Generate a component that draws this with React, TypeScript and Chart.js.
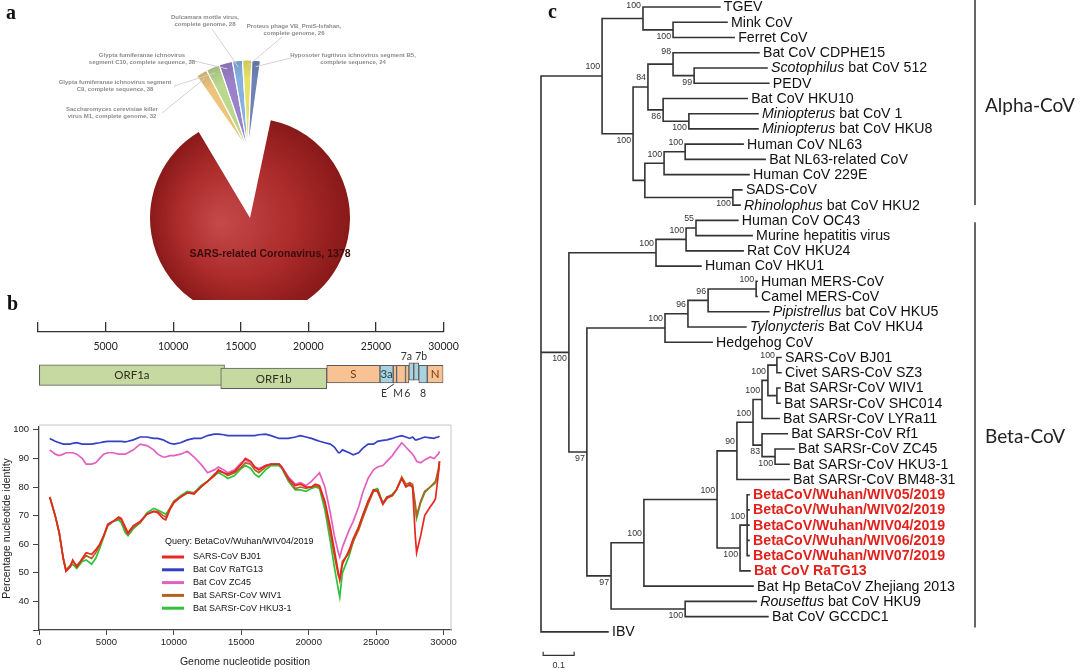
import React, { useEffect, useRef } from 'react';
import { Chart, registerables } from 'chart.js';

Chart.register(...registerables);

const SANS = '"Liberation Sans", Arial, sans-serif';
const CAL = 'Lato, "Open Sans", sans-serif';

// ---------------- Panel a : BLAST hits pie ----------------
const pieLine1 = ['SARS-related Coronavirus', 'Saccharomyces cerevisiae killer', 'Glypta fumiferanae ichnovirus segment', 'Glypta fumiferanae ichnovirus', 'Dulcamara mottle virus,', 'Proteus phage VB_PmiS-Isfahan,', 'Hyposoter fugitivus ichnovirus segment B5,'];
const pieLine2 = ['', 'virus M1, complete genome', 'C9, complete sequence', 'segment C10, complete sequence', 'complete genome', 'complete genome', 'complete sequence'];
const pieValues = [1378, 32, 38, 38, 28, 26, 24];
const pieColors = ['#a32424', '#ecc47c', '#bad88e', '#9b80ca', '#86b2e2', '#e8e168', '#6e82b8'];

// ---------------- Panel b : genome map ----------------
const geneNames = ['ORF1a', 'ORF1b', 'S', '3a', 'E', 'M', '6', '7a', '7b', '8', 'N'];
const geneStart = [100, 13520, 21360, 25300, 26280, 26530, 27190, 27440, 27800, 28170, 28800];
const geneEnd = [13800, 21360, 25300, 26280, 26530, 27190, 27440, 27800, 28170, 28800, 29980];
const geneKind = ['orf', 'orf', 'struct', 'acc', 'struct', 'struct', 'struct', 'acc', 'acc', 'acc', 'struct'];
const geneTrack = [0, 1, 0, 0, 0, 0, 0, -1, -1, 0, 0];
const mapTicks = [0, 5000, 10000, 15000, 20000, 25000, 30000];

// ---------------- Panel b : identity plot ----------------
const legendTitle = 'Query: BetaCoV/Wuhan/WIV04/2019';
const seriesNames = ['SARS-CoV BJ01', 'Bat CoV RaTG13', 'Bat CoV ZC45', 'Bat SARSr-CoV WIV1', 'Bat SARSr-CoV HKU3-1'];
const xTicks = [0, 5000, 10000, 15000, 20000, 25000, 30000];
const yTicks = [30, 40, 50, 60, 70, 80, 90, 100];
const positions = [800, 1200, 1500, 1800, 2000, 2300, 2500, 2800, 3200, 3500,
  3900, 4200, 4500, 4800, 5100, 5500, 5900, 6100, 6400, 6600,
  7000, 7500, 8000, 8500, 8800, 9200, 9400, 9700, 10000, 10500,
  11000, 11500, 12000, 12500, 13000, 13300, 13700, 14000, 14500, 15000,
  15300, 15700, 16000, 16300, 16800, 17200, 17800, 18000, 18500, 19000,
  19400, 19800, 20200, 20500, 20800, 21200, 21600, 21900, 22200, 22300,
  22500, 23000, 23300, 23700, 24000, 24400, 24800, 25100, 25500, 25800,
  26200, 26500, 26900, 27200, 27500, 27700, 27900, 28000, 28300, 28600,
  29000, 29300, 29400, 29600, 29700];
const sarsBJ01 = [76.5, 70, 64, 55, 50.5, 52, 54.5, 52, 55, 57,
  56.5, 58, 60, 63, 67, 68, 69.5, 69, 66, 64,
  66.5, 68, 70.5, 71.5, 71, 69, 68.5, 72, 74.5, 76.5,
  78, 77.5, 80, 82, 84, 86, 85, 84.5, 85.5, 88,
  90, 89, 87, 86, 87.5, 88, 88, 87, 83, 80.5,
  81, 80, 80, 81, 80.5, 75, 66, 58, 50, 47.5,
  53, 58, 62, 66, 70, 75, 79, 78.5, 74, 76.5,
  77, 79, 83, 80, 81, 80, 63, 57, 63, 70,
  73, 75, 76, 84, 89];
const ratg13 = [97, 96, 95.5, 95, 95, 95, 95.3, 95.5, 95, 95,
  95, 95.3, 95.5, 95.8, 96, 96, 96, 96, 95.8, 96,
  96.5, 97.5, 97.5, 97, 97, 96.5, 96, 95.3, 95, 95.5,
  96.5, 97, 97, 98, 98.5, 98.5, 98.3, 98, 98, 98,
  98, 98, 98, 98.3, 98.5, 98, 97, 97, 97, 97.5,
  98, 97.5, 97, 96.5, 96, 95.5, 95, 94, 92, 92,
  93, 92, 91.3, 92, 93.5, 95, 95, 96, 96.3, 96.5,
  97, 97.5, 98, 97.5, 97, 97.5, 96.5, 96.5, 97, 97.5,
  97.2, 97, 97.3, 97.5, 97.8];
const zc45 = [93, 91.5, 91, 91.5, 92, 92, 92, 91.5, 90, 88,
  88, 88.5, 90, 91.5, 92, 92, 91.5, 91.5, 91.5, 92,
  93, 95, 94.5, 93, 91.5, 90.5, 90.5, 91, 91, 91.5,
  92.5, 90.5, 88, 85, 86, 87, 86, 85, 86, 88.5,
  89.5, 88.5, 87, 86.5, 87.5, 88, 88, 87, 83.5, 81,
  81.5, 80.5, 82, 83.5, 85, 80, 71, 63, 57, 55.5,
  59, 65, 68, 73, 78, 83, 86, 87, 87.5, 89,
  91, 93, 95.5, 94, 92.5, 91.5, 90, 89, 88.5, 89.5,
  90.5, 90, 90.5, 91.5, 92.5];
const wiv1 = [76.5, 70, 64, 55, 51, 52.5, 54, 52.5, 54.5, 56,
  55, 57, 59.5, 63, 66.5, 68, 69, 68.5, 65, 63.5,
  66, 67.5, 70.5, 71.5, 71.5, 70, 69.5, 72.5, 75, 76.5,
  78, 78, 80, 82, 84.5, 85.5, 85, 84, 85, 87,
  88.5, 88, 86, 85, 87, 88, 88, 87, 82.5, 79.5,
  80, 79.5, 80, 80.5, 80, 74, 64, 56, 49, 48,
  54, 57, 61, 65, 69, 74, 78.5, 79, 74, 76,
  77, 79, 83.5, 81, 81.5, 81, 74, 70, 75, 78.5,
  80, 81.5, 82, 86, 89];
const hku31 = [76.5, 70, 64, 55, 51, 52, 53, 51.5, 54, 54.5,
  53, 55, 58.5, 62.5, 66.5, 68, 68.5, 67.5, 64, 63,
  65.5, 67.5, 71, 72.5, 72, 71, 70.5, 72.5, 75, 77,
  78.5, 78, 80.5, 82, 84, 85, 84, 83, 84, 86.5,
  87.5, 86.5, 84.5, 83.5, 86, 87.5, 87.5, 86.5, 82, 79,
  79, 78.5, 79.5, 80, 79.5, 72, 61, 52, 44, 41.5,
  50, 56, 61, 66, 70, 75, 79, 79.5, 74.5, 76.5,
  77.5, 79, 83, 80.5, 80.5, 80, 73, 69, 74.5, 78,
  80, 81, 81.5, 85, 88];
const seriesValues = [sarsBJ01, ratg13, zc45, wiv1, hku31];
const seriesColors = ['#e8261f', '#3340c4', '#e260c0', '#b2621c', '#2fc23c'];

// ---------------- Panel c : phylogenetic tree ----------------
const leafNames = ['TGEV', 'Mink CoV', 'Ferret CoV', 'Bat CoV CDPHE15', '_Scotophilus_ bat CoV 512', 'PEDV', 'Bat CoV HKU10',
  '_Miniopterus_ bat CoV 1', '_Miniopterus_ bat CoV HKU8', 'Human CoV NL63', 'Bat NL63-related CoV', 'Human CoV 229E', 'SADS-CoV',
  '_Rhinolophus_ bat CoV HKU2', 'Human CoV OC43', 'Murine hepatitis virus', 'Rat CoV HKU24', 'Human CoV HKU1', 'Human MERS-CoV',
  'Camel MERS-CoV', '_Pipistrellus_ bat CoV HKU5', '_Tylonycteris_ Bat CoV HKU4', 'Hedgehog CoV', 'SARS-CoV BJ01', 'Civet SARS-CoV SZ3',
  'Bat SARSr-CoV WIV1', 'Bat SARSr-CoV SHC014', 'Bat SARSr-CoV LYRa11', 'Bat SARSr-CoV Rf1', 'Bat SARSr-CoV ZC45', 'Bat SARSr-CoV HKU3-1',
  'Bat SARSr-CoV BM48-31', 'BetaCoV/Wuhan/WIV05/2019', 'BetaCoV/Wuhan/WIV02/2019', 'BetaCoV/Wuhan/WIV04/2019', 'BetaCoV/Wuhan/WIV06/2019',
  'BetaCoV/Wuhan/WIV07/2019', 'Bat CoV RaTG13', 'Bat Hp BetaCoV Zhejiang 2013', '_Rousettus_ bat CoV HKU9', 'Bat CoV GCCDC1', 'IBV'];
const leafDepth = [0.577, 0.600, 0.623, 0.703, 0.729, 0.735, 0.665, 0.700, 0.700, 0.652, 0.723, 0.671, 0.648, 0.642,
  0.635, 0.681, 0.652, 0.516, 0.697, 0.697, 0.735, 0.661, 0.552, 0.774, 0.774, 0.771, 0.771, 0.768, 0.794, 0.816, 0.800,
  0.800, 0.671, 0.671, 0.671, 0.671, 0.671, 0.674, 0.684, 0.694, 0.732, 0.216];
const highlightedLeaves = [32, 33, 34, 35, 36, 37];
const cladeIds = ['MF', 'TG', 'F', 'D', 'G', 'E', 'C', 'K', 'I', 'J', 'H', 'B', 'A', 'P', 'Q', 'N', 'U', 'V', 'T', 'R',
  'W', 'Y', 'X', 'Z', 'AC', 'AB', 'AA', 'AD', 'AG', 'AF', 'AE', 'AH', 'AI', 'S', 'O', 'M', 'root'];
const cladeKids: (number | string)[][] = [[1, 2], [0, 'MF'], [4, 5], [3, 'F'], [7, 8], [6, 'G'], ['D', 'E'], [9, 10], ['K', 11], [12, 13],
  ['I', 'J'], ['C', 'H'], ['TG', 'B'], [14, 15], ['P', 16], ['Q', 17], [18, 19], ['U', 20], ['V', 21], ['T', 22],
  [23, 24], [25, 26], ['W', 'Y'], ['X', 27], [29, 30], [28, 'AC'], ['Z', 'AB'], ['AA', 31], [32, 33, 34, 35, 36], ['AG', 37],
  ['AD', 'AF'], ['AE', 38], [39, 40], ['AH', 'AI'], ['R', 'S'], ['N', 'O'], ['A', 'M', 41]];
const cladeDepth = [0.426, 0.329, 0.494, 0.426, 0.477, 0.394, 0.345, 0.465, 0.397, 0.619,
  0.335, 0.297, 0.197, 0.500, 0.468, 0.371, 0.694, 0.539, 0.474, 0.400,
  0.761, 0.761, 0.732, 0.713, 0.755, 0.713, 0.684, 0.632, 0.665, 0.642,
  0.568, 0.332, 0.465, 0.226, 0.148, 0.090, 0];
const cladeSupport = [100, 100, 99, 98, 100, 86, 84, 100, 100, 100,
  null, 100, 100, 55, 100, 100, 100, 96, 96, 100,
  100, null, 100, 100, 100, 83, 100, 90, 100, 100,
  100, 100, 100, 97, 97, 100, null];
const groupNames = ['Alpha-CoV', 'Beta-CoV'];
const groupFirst = [0, 14];
const groupLast = [13, 40];
const scaleBarLength = 0.1;

// layout-only settings for the support labels (u: above node, d: below node, t: top of node)
const supportSide = ['d', 't', 'd', 't', 'd', 'd', 'u', 'u', 'u', 'd',
  '', 'd', 'u', 't', 'u', 'u', 't', 'u', 'u', 'u',
  't', '', 'u', 'u', 'd', 'd', 'u', 'u', 'u', 'd',
  'u', 'u', 'd', 'd', 'd', 'd', ''];

Chart.defaults.font.family = SANS;

function ChartCanvas({ left, top, width, height, make }: any) {
  const ref = useRef<HTMLCanvasElement>(null);
  useEffect(() => {
    const chart = new Chart(ref.current as HTMLCanvasElement, make());
    return () => chart.destroy();
  }, []);
  return <canvas ref={ref} width={width} height={height}
    style={{ position: 'absolute', left, top, width, height, display: 'block' }} />;
}

const PIE_ROTATION = 12;

// ---------- pie (red main slice) ----------
function makePieMain(): any {
  return {
    type: 'pie',
    data: {
      labels: pieLine1,
      datasets: [{
        data: pieValues,
        clip: false,
        borderWidth: 0,
        backgroundColor: (c: any) => {
          if (c.dataIndex !== 0) return 'rgba(0,0,0,0)';
          const a = c.chart.chartArea;
          if (!a) return pieColors[0];
          const cx = (a.left + a.right) / 2, cy = (a.top + a.bottom) / 2;
          const g = c.chart.ctx.createRadialGradient(cx - 30, cy + 5, 4, cx, cy, 103);
          g.addColorStop(0, '#c44848');
          g.addColorStop(0.55, '#ac2b2b');
          g.addColorStop(1, '#871818');
          return g;
        },
      }],
    },
    options: {
      responsive: false, animation: false, events: [],
      rotation: PIE_ROTATION, radius: 100, cutout: '0%',
      layout: { padding: { left: 30, top: 136, right: 0, bottom: 0 } },
      plugins: { legend: { display: false }, tooltip: { enabled: false } },
    },
    plugins: [{
      id: 'redLabel',
      afterDatasetsDraw(chart: any) {
        const a = chart.chartArea;
        const cx = (a.left + a.right) / 2, cy = (a.top + a.bottom) / 2;
        const ctx = chart.ctx;
        ctx.save();
        ctx.font = `bold 10.5px ${SANS}`;
        ctx.fillStyle = '#3a0c0c';
        ctx.textAlign = 'center';
        ctx.textBaseline = 'middle';
        ctx.fillText(`${pieLine1[0]}, ${pieValues[0]}`, cx + 20, cy + 36);
        ctx.restore();
      },
    }],
  };
}

// ---------- pie (small, exploded group) ----------
const pieLabelPos = [null, [112, 109], [115, 82], [142, 55], [205, 17], [294, 26], [353, 55]];
const pieLeaderStart = [null, [162, 113], [174, 86], [190, 60], [212, 29], [282, 37], [291, 58]];

function makePieSmall(): any {
  return {
    type: 'pie',
    data: {
      labels: pieLine1,
      datasets: [{
        data: pieValues,
        clip: false,
        backgroundColor: (c: any) => {
          const i = c.dataIndex;
          if (i === 0) return 'rgba(0,0,0,0)';
          const a = c.chart.chartArea;
          if (!a) return pieColors[i];
          const cx = (a.left + a.right) / 2, cy = (a.top + a.bottom) / 2;
          const g = c.chart.ctx.createRadialGradient(cx, cy, 10, cx, cy, 92);
          g.addColorStop(0, pieColors[i]);
          g.addColorStop(0.75, pieColors[i]);
          g.addColorStop(1, shade(pieColors[i], 0.86));
          return g;
        },
        borderColor: '#ffffff',
        borderWidth: pieValues.map((_, i) => (i === 0 ? 0 : 1.2)),
      }],
    },
    options: {
      responsive: false, animation: false, events: [],
      rotation: 8, radius: 90, cutout: '0%',
      layout: { padding: { left: 26, top: 0, right: 0, bottom: 0 } },
      plugins: { legend: { display: false }, tooltip: { enabled: false } },
    },
    plugins: [{
      id: 'smallLabels',
      afterDatasetsDraw(chart: any) {
        const ctx = chart.ctx;
        const meta = chart.getDatasetMeta(0);
        ctx.save();
        meta.data.forEach((arc: any, i: number) => {
          if (i === 0) return;
          const p = arc.getProps(['x', 'y', 'startAngle', 'endAngle', 'outerRadius'], true);
          const mid = (p.startAngle + p.endAngle) / 2;
          const ex = p.x + Math.cos(mid) * p.outerRadius * 0.93;
          const ey = p.y + Math.sin(mid) * p.outerRadius * 0.93;
          const s = pieLeaderStart[i] as number[];
          ctx.strokeStyle = '#d2d2d2';
          ctx.lineWidth = 1;
          ctx.beginPath();
          ctx.moveTo(s[0], s[1]);
          ctx.lineTo(ex, ey);
          ctx.stroke();
          const lp = pieLabelPos[i] as number[];
          ctx.font = `bold 6px ${SANS}`;
          ctx.fillStyle = '#8c8c8c';
          ctx.textAlign = 'center';
          ctx.textBaseline = 'middle';
          ctx.fillText(pieLine1[i], lp[0], lp[1]);
          ctx.fillText(`${pieLine2[i]}, ${pieValues[i]}`, lp[0], lp[1] + 7.5);
        });
        ctx.restore();
      },
    }],
  };
}

function shade(hex: string, f: number) {
  const n = parseInt(hex.slice(1), 16);
  const r = Math.round(((n >> 16) & 255) * f), g = Math.round(((n >> 8) & 255) * f), b = Math.round((n & 255) * f);
  return `rgb(${r},${g},${b})`;
}

// ---------- genome map ----------
const kindColor: any = { orf: '#c6d9a0', struct: '#f8c394', acc: '#a8d2df' };
const kindThick: any = { orf: 20.5, struct: 17.5, acc: 17.5 };
const kindText: any = { orf: '#2e2e20', struct: '#7b3a14', acc: '#23434d' };
const trackShift: any = { '-1': -4, '0': 0, '1': 4.7 };
const geneLabelPlace: any = {
  ORF1a: ['in', 0], ORF1b: ['in', 0], S: ['in', 0], '3a': ['in', 0], N: ['in', 0],
  E: ['down', -11], M: ['down', -3], '6': ['down', 0], '7a': ['up', -5], '7b': ['up', 5], '8': ['down', 0],
};

function makeMap(): any {
  const kinds = ['orf', 'struct', 'acc'];
  const datasets = kinds.map((k) => {
    const idx = geneNames.map((_, i) => i).filter((i) => geneKind[i] === k);
    return {
      geneIdx: idx,
      data: idx.map((i) => ({ x: [geneStart[i], geneEnd[i]], y: 35 + trackShift[String(geneTrack[i])] + kindThick[k] / 2 })),
      backgroundColor: kindColor[k],
      borderColor: '#5c5c5c',
      borderWidth: 1,
      borderSkipped: false,
      barThickness: kindThick[k],
      stack: 'genome',
    };
  });
  return {
    type: 'bar',
    data: { datasets },
    options: {
      indexAxis: 'y', responsive: false, animation: false, events: [],
      layout: { padding: { left: 38, right: 26.5, top: 0, bottom: 0 } },
      scales: {
        x: {
          type: 'linear', position: 'top', min: 0, max: 30000, stacked: false,
          ticks: { display: false },
          afterBuildTicks(s: any) { s.ticks = mapTicks.map((v) => ({ value: v })); },
          grid: { drawOnChartArea: false, drawTicks: true, tickLength: 10, color: '#333', lineWidth: 1.3 },
          border: { color: '#333', width: 1.3 },
          afterFit(s: any) { s.height = 32; },
        },
        y: { type: 'linear', display: false, min: 0, max: 78, reverse: true },
      },
      plugins: { legend: { display: false }, tooltip: { enabled: false } },
    },
    plugins: [{
      id: 'mapLabels',
      afterDatasetsDraw(chart: any) {
        const ctx = chart.ctx;
        const xs = chart.scales.x;
        const a = chart.chartArea;
        ctx.save();
        ctx.font = `10.5px ${CAL}`;
        ctx.fillStyle = '#222';
        ctx.textAlign = 'center';
        ctx.textBaseline = 'middle';
        mapTicks.forEach((v) => { if (v > 0) ctx.fillText(String(v), xs.getPixelForValue(v), a.top + 15); });
        chart.data.datasets.forEach((ds: any, di: number) => {
          const meta = chart.getDatasetMeta(di);
          meta.data.forEach((el: any, j: number) => {
            const gi = ds.geneIdx[j];
            const name = geneNames[gi];
            const p = el.getProps(['x', 'base', 'y', 'height'], true);
            const cx = (p.x + p.base) / 2;
            const top = p.y - p.height / 2, bottom = p.y + p.height / 2;
            const [mode, dx] = geneLabelPlace[name];
            if (mode === 'in') {
              ctx.font = `11.5px ${CAL}`;
              ctx.fillStyle = kindText[geneKind[gi]];
              ctx.fillText(name, cx, p.y + 0.5);
            } else if (mode === 'up') {
              ctx.font = `10.5px ${CAL}`;
              ctx.fillStyle = '#333';
              ctx.fillText(name, cx + dx, top - 6.5);
            } else {
              ctx.font = `10.5px ${CAL}`;
              ctx.fillStyle = '#333';
              ctx.fillText(name, cx + dx, bottom + 10.5);
              if (dx < -6) {
                ctx.strokeStyle = '#333';
                ctx.lineWidth = 1;
                ctx.beginPath();
                ctx.moveTo(cx + dx + 3, bottom + 6);
                ctx.lineTo(cx - 1, bottom + 1);
                ctx.stroke();
              }
            }
          });
        });
        ctx.restore();
      },
    }],
  };
}

// ---------- identity line plot ----------
function makeIdentity(): any {
  return {
    type: 'line',
    data: {
      datasets: seriesNames.map((n, k) => ({
        label: n,
        data: positions.map((p, i) => ({ x: p, y: seriesValues[k][i] })),
        borderColor: seriesColors[k],
        backgroundColor: seriesColors[k],
        borderWidth: 1.7,
        pointRadius: 0,
        tension: 0,
        fill: false,
      })),
    },
    options: {
      responsive: false, animation: false, events: [],
      layout: { padding: { left: 0, right: 19, top: 12, bottom: 0 } },
      scales: {
        x: {
          type: 'linear', min: 0, max: 30550,
          afterBuildTicks(s: any) { s.ticks = xTicks.map((v) => ({ value: v })); },
          ticks: { autoSkip: false, maxRotation: 0, padding: 2, color: '#222', font: { size: 9.5 }, callback: (v: any) => String(v) },
          grid: { drawOnChartArea: false, drawTicks: true, tickLength: 5, color: '#444' },
          border: { color: '#444', width: 1.3 },
          title: { display: true, text: 'Genome nucleotide position', color: '#222', font: { size: 10.5 }, padding: { top: 0, bottom: 2 } },
          afterFit(s: any) { s.height = 40; },
        },
        y: {
          type: 'linear', min: 30, max: 101,
          afterBuildTicks(s: any) { s.ticks = yTicks.map((v) => ({ value: v })); },
          ticks: { autoSkip: false, padding: 4, color: '#222', font: { size: 9.5 }, callback: (v: any) => (v >= 40 ? String(v) : '') },
          grid: { drawOnChartArea: false, drawTicks: true, tickLength: 6, color: '#444' },
          border: { color: '#444', width: 1.3 },
          title: { display: true, text: 'Percentage nucleotide identity', color: '#222', font: { size: 10.5 }, padding: { top: 1, bottom: 0 } },
          afterFit(s: any) { s.width = 39; },
        },
      },
      plugins: { legend: { display: false }, tooltip: { enabled: false } },
    },
    plugins: [{
      id: 'frameAndLegend',
      beforeDatasetsDraw(chart: any) {
        const ctx = chart.ctx;
        const a = chart.chartArea;
        ctx.save();
        ctx.strokeStyle = '#c4c4c4';
        ctx.lineWidth = 1;
        ctx.beginPath();
        ctx.moveTo(a.left, a.top - 2);
        ctx.lineTo(a.right, a.top - 2);
        ctx.lineTo(a.right, a.bottom);
        ctx.stroke();
        ctx.restore();
      },
      afterDatasetsDraw(chart: any) {
        const ctx = chart.ctx;
        const a = chart.chartArea;
        const x0 = a.left + 126, y0 = a.top + 115;
        ctx.save();
        ctx.font = `9px ${SANS}`;
        ctx.fillStyle = '#111';
        ctx.textAlign = 'left';
        ctx.textBaseline = 'middle';
        ctx.fillText(legendTitle, x0, y0);
        chart.data.datasets.forEach((ds: any, i: number) => {
          const y = y0 + 15 + i * 12.8;
          ctx.strokeStyle = ds.borderColor;
          ctx.lineWidth = 3;
          ctx.beginPath();
          ctx.moveTo(x0 - 3, y);
          ctx.lineTo(x0 + 19, y);
          ctx.stroke();
          ctx.fillStyle = '#111';
          ctx.fillText(ds.label, x0 + 28, y);
        });
        ctx.restore();
      },
    }],
  };
}

// ---------- tree ----------
function buildTree() {
  const nx: any = {}, ny: any = {};
  const ref = (c: number | string) => (typeof c === 'number' ? 'L' + c : c);
  leafNames.forEach((_, i) => { nx['L' + i] = leafDepth[i]; ny['L' + i] = i; });
  cladeIds.forEach((id, k) => {
    const kids = cladeKids[k].map(ref);
    ny[id] = (ny[kids[0]] + ny[kids[kids.length - 1]]) / 2;
    nx[id] = cladeDepth[k];
  });
  const pts: any[] = [];
  cladeIds.forEach((id, k) => {
    const kids = cladeKids[k].map(ref);
    const x = nx[id];
    pts.push({ x, y: ny[kids[0]] }, { x, y: ny[kids[kids.length - 1]] }, { x, y: null });
    kids.forEach((c) => pts.push({ x, y: ny[c] }, { x: nx[c], y: ny[c] }, { x, y: null }));
  });
  return { nx, ny, pts, ref };
}

function drawRich(ctx: any, text: string, x: number, y: number, bold: boolean, color: string, size: number) {
  const parts = text.split('_');
  let cx = x;
  parts.forEach((p, idx) => {
    if (!p) return;
    const italic = idx % 2 === 1;
    ctx.font = `${italic ? 'italic ' : ''}${bold ? 'bold ' : ''}${size}px ${SANS}`;
    ctx.fillStyle = color;
    ctx.fillText(p, cx, y);
    cx += ctx.measureText(p).width;
  });
}

const SCALE_Y = 42.55;
const SCALE_X0 = 0.007;

function makeTree(): any {
  const { nx, ny, pts, ref } = buildTree();
  const bar = [
    { x: SCALE_X0, y: SCALE_Y - 0.25 }, { x: SCALE_X0, y: SCALE_Y },
    { x: SCALE_X0 + scaleBarLength, y: SCALE_Y }, { x: SCALE_X0 + scaleBarLength, y: SCALE_Y - 0.25 },
  ];
  return {
    type: 'scatter',
    data: {
      datasets: [
        { data: pts, showLine: true, borderColor: '#333', borderWidth: 1.6, pointRadius: 0, spanGaps: false, borderCapStyle: 'square', tension: 0 },
        { data: bar, showLine: true, borderColor: '#333', borderWidth: 1.2, pointRadius: 0, tension: 0 },
      ],
    },
    options: {
      responsive: false, animation: false, events: [],
      layout: { padding: 0 },
      scales: {
        x: { type: 'linear', display: false, min: -1 / 310, max: 539 / 310 },
        y: { type: 'linear', display: false, reverse: true, min: -7 / 15.24, max: 663 / 15.24 },
      },
      plugins: { legend: { display: false }, tooltip: { enabled: false } },
    },
    plugins: [{
      id: 'treeLabels',
      afterDatasetsDraw(chart: any) {
        const ctx = chart.ctx;
        const xs = chart.scales.x, ys = chart.scales.y;
        ctx.save();
        ctx.textAlign = 'left';
        ctx.textBaseline = 'middle';
        leafNames.forEach((name, i) => {
          const hl = highlightedLeaves.indexOf(i) >= 0;
          drawRich(ctx, name, xs.getPixelForValue(leafDepth[i]) + 4, ys.getPixelForValue(i) + 0.5, hl, hl ? '#e3211c' : '#111', 14.2);
        });
        ctx.font = `8.8px ${SANS}`;
        ctx.fillStyle = '#333';
        ctx.textAlign = 'right';
        cladeIds.forEach((id, k) => {
          const sup = cladeSupport[k];
          if (sup === null) return;
          const kids = cladeKids[k].map(ref);
          const px = xs.getPixelForValue(nx[id]) - 2;
          let py = ys.getPixelForValue(ny[id]);
          const side = supportSide[k];
          if (side === 'u') py -= 9;
          else if (side === 'd') py += 6.5;
          else py = ys.getPixelForValue(ny[kids[0]]) - 1.5;
          ctx.fillText(String(sup), px, py);
        });
        ctx.textAlign = 'center';
        ctx.font = `9px ${SANS}`;
        ctx.fillText(String(scaleBarLength), xs.getPixelForValue(SCALE_X0 + scaleBarLength / 2), ys.getPixelForValue(SCALE_Y) + 10);
        const bx = 435;
        const ext = [[-7, 0], [2, 11]];
        const lab = [6.5, 28.2];
        groupNames.forEach((g, k) => {
          const t = ys.getPixelForValue(groupFirst[k]) + ext[k][0];
          const b = ys.getPixelForValue(groupLast[k]) + ext[k][1];
          ctx.strokeStyle = '#333';
          ctx.lineWidth = 1.5;
          ctx.beginPath();
          ctx.moveTo(bx, t);
          ctx.lineTo(bx, b);
          ctx.stroke();
          ctx.font = `19px ${CAL}`;
          ctx.fillStyle = '#222';
          ctx.textAlign = 'left';
          ctx.fillText(g, bx + 10, ys.getPixelForValue(lab[k]));
        });
        ctx.restore();
      },
    }],
  };
}

const letterStyle: any = { position: 'absolute', font: 'bold 20px "Liberation Serif", "Times New Roman", serif', lineHeight: '20px', color: '#111' };

export default function App() {
  return (
    <div style={{ position: 'fixed', left: 0, top: 0, width: 1080, height: 670, background: '#fff', overflow: 'hidden' }}>
      <ChartCanvas left={0} top={0} width={470} height={300} make={makePieMain} />
      <ChartCanvas left={0} top={0} width={470} height={300} make={makePieSmall} />
      <ChartCanvas left={0} top={300} width={470} height={110} make={makeMap} />
      <ChartCanvas left={0} top={415} width={470} height={255} make={makeIdentity} />
      <ChartCanvas left={540} top={0} width={540} height={670} make={makeTree} />
      <div style={{ ...letterStyle, left: 6, top: 2 }}>a</div>
      <div style={{ ...letterStyle, left: 7, top: 293 }}>b</div>
      <div style={{ ...letterStyle, left: 548, top: 1 }}>c</div>
    </div>
  );
}
